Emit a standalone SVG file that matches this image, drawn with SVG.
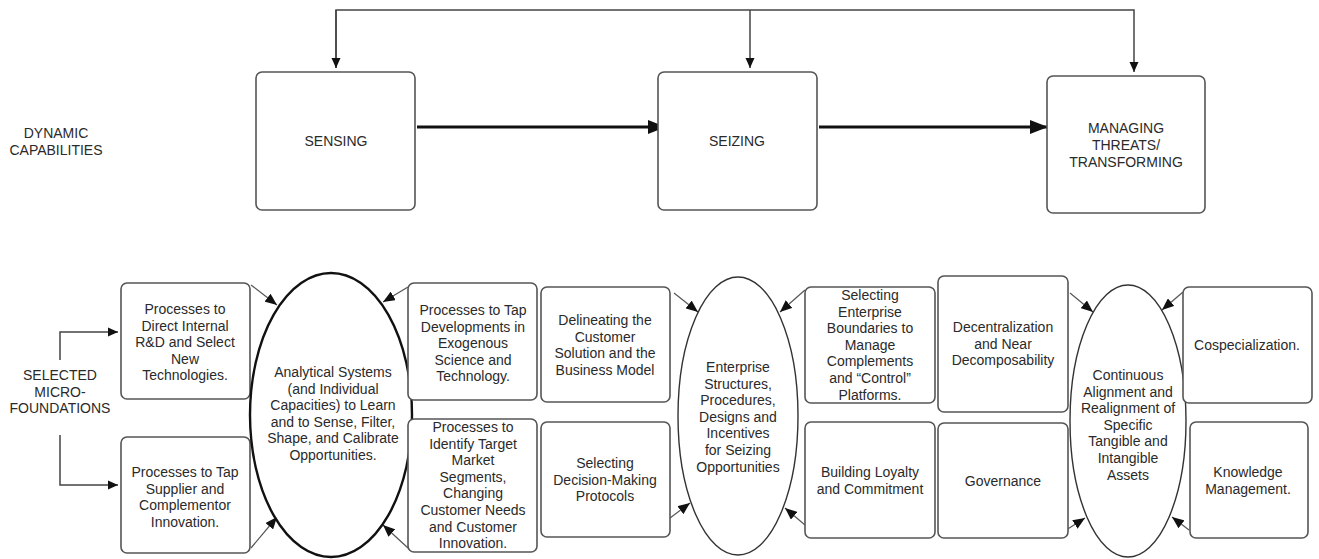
<svg xmlns="http://www.w3.org/2000/svg" width="1319" height="559" viewBox="0 0 1319 559">
<defs>
<style>
.box{fill:#fff;stroke:#555;stroke-width:1.6}
.ell{fill:#fff;stroke:#333;stroke-width:1.4}
.ellb{fill:#fff;stroke:#111;stroke-width:2.4}
.t{font-family:"Liberation Sans",Arial,sans-serif;font-size:14px;fill:#2a2a2a;text-anchor:middle}
.thin{fill:none;stroke:#444;stroke-width:1.5}
.thick{fill:none;stroke:#111;stroke-width:3}
.small{fill:none;stroke:#555;stroke-width:1.2}
</style>
<marker id="ah" markerUnits="userSpaceOnUse" markerWidth="10" markerHeight="10" refX="10" refY="5" orient="auto"><path d="M0,0.5 L10,5 L0,9.5 z" fill="#111"/></marker>
<marker id="ahb" markerUnits="userSpaceOnUse" markerWidth="18" markerHeight="14" refX="18" refY="7" orient="auto"><path d="M0,0 L18,7 L0,14 z" fill="#111"/></marker>
<marker id="ahs" markerUnits="userSpaceOnUse" markerWidth="12" markerHeight="10" refX="12" refY="5" orient="auto"><path d="M0,0 L12,5 L0,10 z" fill="#111"/></marker>
</defs>

<g id="connectors">
<path class="thin" d="M336,68 V10 H1134 V72" marker-end="url(#ah)"/>
<path class="thin" d="M336,10 V68" marker-end="url(#ah)"/>
<path class="thin" d="M750,10 V68" marker-end="url(#ah)"/>
<path class="thick" d="M417,127 H666" marker-end="url(#ahb)"/>
<path class="thick" d="M819,127 H1048" marker-end="url(#ahb)"/>
<path class="thin" d="M60,360 V332 H118" marker-end="url(#ah)"/>
<path class="thin" d="M60,435 V485 H118" marker-end="url(#ah)"/>
<path class="small" d="M251,285 L277,305" marker-end="url(#ahs)"/>
<path class="small" d="M251,548 L277,517" marker-end="url(#ahs)"/>
<path class="small" d="M408,287 L383,302" marker-end="url(#ahs)"/>
<path class="small" d="M408,548 L383,525" marker-end="url(#ahs)"/>
<path class="small" d="M674,293 L698,312" marker-end="url(#ahs)"/>
<path class="small" d="M670,518 L690,503" marker-end="url(#ahs)"/>
<path class="small" d="M805,290 L780,312" marker-end="url(#ahs)"/>
<path class="small" d="M805,525 L785,508" marker-end="url(#ahs)"/>
<path class="small" d="M1070,293 L1093,312" marker-end="url(#ahs)"/>
<path class="small" d="M1063,532 L1085,518" marker-end="url(#ahs)"/>
<path class="small" d="M1183,292 L1162,310" marker-end="url(#ahs)"/>
<path class="small" d="M1189,530 L1172,517" marker-end="url(#ahs)"/>
</g>

<g id="label-dynamic"><text class="t" x="56" y="138">DYNAMIC<tspan x="56" dy="17">CAPABILITIES</tspan></text></g>
<g id="label-micro"><text class="t" x="60" y="380">SELECTED<tspan x="60" dy="16.6">MICRO-</tspan><tspan x="60" dy="16.6">FOUNDATIONS</tspan></text></g>

<g id="sensing"><rect class="box" x="256" y="72" width="159" height="138" rx="6"/><text class="t" x="336" y="146">SENSING</text></g>
<g id="seizing"><rect class="box" x="658" y="72" width="159" height="138" rx="6"/><text class="t" x="737" y="146">SEIZING</text></g>
<g id="managing"><rect class="box" x="1047" y="76" width="158" height="137" rx="6"/><text class="t" x="1126" y="133">MANAGING<tspan x="1126" dy="17">THREATS/</tspan><tspan x="1126" dy="17">TRANSFORMING</tspan></text></g>

<g id="a1"><rect class="box" x="121" y="283" width="129" height="116" rx="6"/><text class="t" x="185" y="314">Processes to<tspan x="185" dy="16.6">Direct Internal</tspan><tspan x="185" dy="16.6">R&amp;D and Select</tspan><tspan x="185" dy="16.6">New</tspan><tspan x="185" dy="16.6">Technologies.</tspan></text></g>
<g id="a2"><rect class="box" x="121" y="437" width="129" height="116" rx="6"/><text class="t" x="185" y="477">Processes to Tap<tspan x="185" dy="16.6">Supplier and</tspan><tspan x="185" dy="16.6">Complementor</tspan><tspan x="185" dy="16.6">Innovation.</tspan></text></g>

<g id="e1"><ellipse class="ellb" cx="331" cy="415" rx="81" ry="142"/><text class="t" x="333" y="377">Analytical Systems<tspan x="333" dy="16.6">(and Individual</tspan><tspan x="333" dy="16.6">Capacities) to Learn</tspan><tspan x="333" dy="16.6">and to Sense, Filter,</tspan><tspan x="333" dy="16.6">Shape, and Calibrate</tspan><tspan x="333" dy="16.6">Opportunities.</tspan></text></g>

<g id="b1"><rect class="box" x="408" y="283" width="129" height="117" rx="6"/><text class="t" x="473" y="315">Processes to Tap<tspan x="473" dy="16.6">Developments in</tspan><tspan x="473" dy="16.6">Exogenous</tspan><tspan x="473" dy="16.6">Science and</tspan><tspan x="473" dy="16.6">Technology.</tspan></text></g>
<g id="b2"><rect class="box" x="408" y="419" width="129" height="133" rx="6"/><text class="t" x="473" y="432">Processes to<tspan x="473" dy="16.6">Identify Target</tspan><tspan x="473" dy="16.6">Market</tspan><tspan x="473" dy="16.6">Segments,</tspan><tspan x="473" dy="16.6">Changing</tspan><tspan x="473" dy="16.6">Customer Needs</tspan><tspan x="473" dy="16.6">and Customer</tspan><tspan x="473" dy="16.6">Innovation.</tspan></text></g>

<g id="c1"><rect class="box" x="541" y="287" width="129" height="115" rx="6"/><text class="t" x="605" y="325">Delineating the<tspan x="605" dy="16.6">Customer</tspan><tspan x="605" dy="16.6">Solution and the</tspan><tspan x="605" dy="16.6">Business Model</tspan></text></g>
<g id="c2"><rect class="box" x="541" y="422" width="129" height="115" rx="6"/><text class="t" x="605" y="468">Selecting<tspan x="605" dy="16.6">Decision-Making</tspan><tspan x="605" dy="16.6">Protocols</tspan></text></g>

<g id="e2"><ellipse class="ell" cx="738" cy="416" rx="60" ry="139"/><text class="t" x="738" y="372">Enterprise<tspan x="738" dy="16.6">Structures,</tspan><tspan x="738" dy="16.6">Procedures,</tspan><tspan x="738" dy="16.6">Designs and</tspan><tspan x="738" dy="16.6">Incentives</tspan><tspan x="738" dy="16.6">for Seizing</tspan><tspan x="738" dy="16.6">Opportunities</tspan></text></g>

<g id="d1"><rect class="box" x="805" y="287" width="130" height="116" rx="6"/><text class="t" x="870" y="300">Selecting<tspan x="870" dy="16.6">Enterprise</tspan><tspan x="870" dy="16.6">Boundaries to</tspan><tspan x="870" dy="16.6">Manage</tspan><tspan x="870" dy="16.6">Complements</tspan><tspan x="870" dy="16.6">and “Control”</tspan><tspan x="870" dy="16.6">Platforms.</tspan></text></g>
<g id="d2"><rect class="box" x="805" y="422" width="130" height="116" rx="6"/><text class="t" x="870" y="477">Building Loyalty<tspan x="870" dy="16.6">and Commitment</tspan></text></g>

<g id="f1e"><rect class="box" x="938" y="276" width="130" height="136" rx="6"/><text class="t" x="1003" y="332">Decentralization<tspan x="1003" dy="16.6">and Near</tspan><tspan x="1003" dy="16.6">Decomposability</tspan></text></g>
<g id="f2e"><rect class="box" x="938" y="423" width="130" height="115" rx="6"/><text class="t" x="1003" y="486">Governance</text></g>

<g id="e3"><ellipse class="ell" cx="1128" cy="421" rx="58" ry="136"/><text class="t" x="1128" y="380">Continuous<tspan x="1128" dy="16.6">Alignment and</tspan><tspan x="1128" dy="16.6">Realignment of</tspan><tspan x="1128" dy="16.6">Specific</tspan><tspan x="1128" dy="16.6">Tangible and</tspan><tspan x="1128" dy="16.6">Intangible</tspan><tspan x="1128" dy="16.6">Assets</tspan></text></g>

<g id="g1"><rect class="box" x="1183" y="287" width="129" height="116" rx="6"/><text class="t" x="1247" y="350">Cospecialization.</text></g>
<g id="g2"><rect class="box" x="1190" y="422" width="118" height="116" rx="6"/><text class="t" x="1248" y="477">Knowledge<tspan x="1248" dy="16.6">Management.</tspan></text></g>
</svg>
